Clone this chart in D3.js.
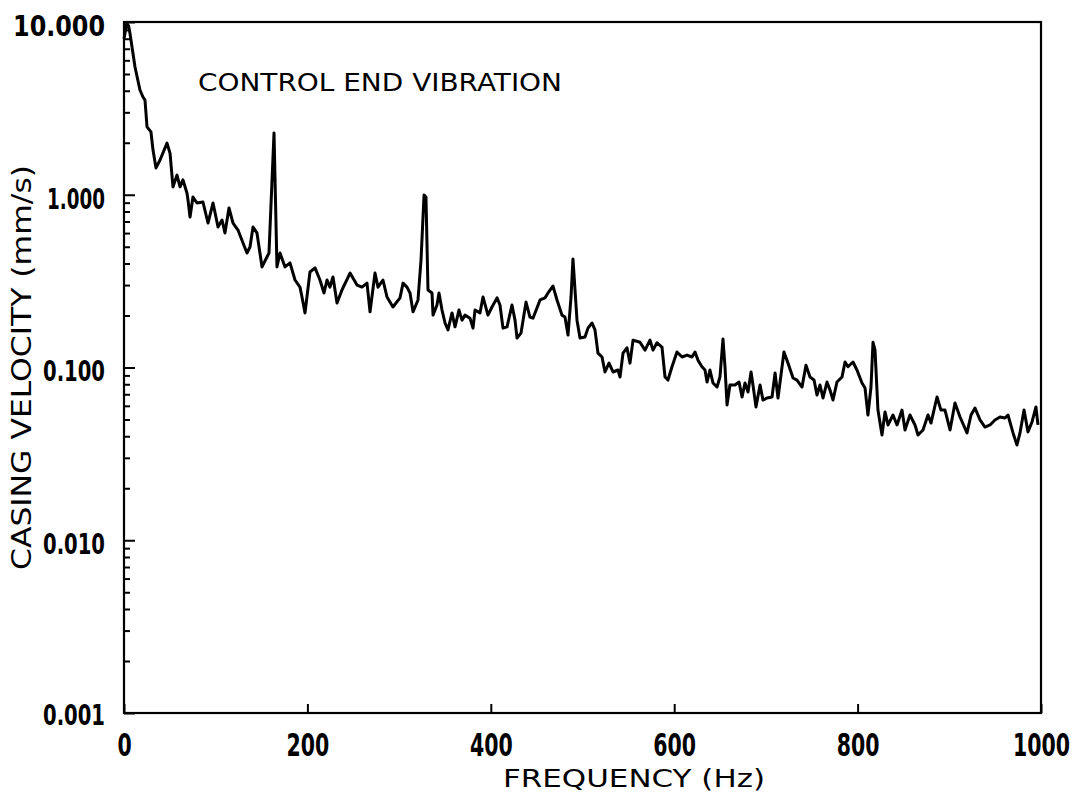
<!DOCTYPE html>
<html>
<head>
<meta charset="utf-8">
<script src="https://cdn.jsdelivr.net/npm/d3@7"></script>
<style>
  html, body { margin: 0; padding: 0; background: #fff; }
  svg { display: block; }
  text { font-family: "DejaVu Sans", sans-serif; fill: #000; }
</style>
</head>
<body>
<svg id="chart" width="1081" height="795"></svg>
<script>
// Spectrum of casing velocity at the control end (mm/s vs Hz)
const freqHz = [
  0, 3, 5, 6.5, 12, 17.4, 20.7, 22.9, 25.1, 29.4,
  31.6, 34.9, 39.3, 46.9, 50.2, 53.4, 57.8, 61.1, 64.3, 68.7,
  69.8, 72, 75.2, 79.6, 86.1, 91.6, 97.1, 102.5, 106.9, 110.1,
  114.5, 118.9, 124.3, 129.8, 134.1, 137.4, 140.7, 145, 150.5, 155.9,
  158.1, 163.6, 166.8, 170.1, 175.6, 181, 186.5, 191.9, 194.1, 197.4,
  202.8, 208.3, 213.7, 218.1, 221.4, 224.6, 227.9, 232.3, 237.7, 246.5,
  254.1, 259.5, 265, 268.3, 273.7, 277, 282.4, 286.8, 293.3, 301,
  304.3, 308.6, 311.9, 315.2, 320.6, 323.9, 327.2, 329.3, 331.5, 335.9,
  337, 341.3, 343.5, 346.8, 350.1, 353.3, 357.7, 361, 365.3, 368.6,
  371.9, 377.3, 380.6, 382.8, 388.2, 391.5, 396.9, 401.3, 406.8, 410,
  413.3, 417.7, 423.1, 426.4, 428.6, 432.9, 438.4, 442.7, 446, 453.7,
  459.1, 462.4, 467.8, 472.2, 477.6, 480.9, 484.2, 487.5, 489.6, 494,
  497.3, 502.7, 506, 510.4, 513.6, 516.9, 521.3, 524.5, 528.9, 533.3,
  538.7, 540.9, 544.2, 548.5, 551.8, 555.1, 562.7, 568.2, 573.6, 576.9,
  581.2, 586.7, 590, 593.2, 597.6, 603, 608.5, 614, 619.4, 622.7,
  626, 630.3, 633.6, 635.8, 639, 642.3, 646.7, 649.9, 653.2, 655.4,
  657.6, 660.8, 666.3, 670.7, 674, 677.2, 680.5, 683.8, 685.9, 689.2,
  693.6, 696.8, 701.2, 706.7, 710, 713.2, 719.7, 724.1, 729.6, 733.9,
  739.4, 743.7, 748.1, 752.5, 755.7, 759, 762.3, 766.6, 769.9, 773.2,
  777.5, 783, 786.3, 789.5, 795, 799.3, 804.8, 808.1, 811.3, 814.6,
  816.8, 819, 822.2, 826.6, 829.9, 833.2, 838.6, 843, 848.4, 851.7,
  857.1, 862.6, 865.9, 871.3, 876.8, 880, 886.6, 890.9, 895.3, 900.8,
  906.2, 911.7, 919.3, 923.7, 928, 933.5, 938.9, 944.4, 949.8, 955.3,
  960.7, 964, 969.5, 973.8, 977.1, 981.5, 985.8, 990.2, 994.5, 996.7
];
const velocity = [
  8.0, 9.8, 9.5, 8.6, 5.49, 4.04, 3.68, 3.53, 2.47, 2.31,
  1.82, 1.43, 1.59, 1.99, 1.74, 1.11, 1.30, 1.11, 1.22, 1.02,
  0.932, 0.743, 0.97, 0.896, 0.908, 0.686, 0.896, 0.651, 0.714, 0.601,
  0.838, 0.686, 0.625, 0.526, 0.46, 0.498, 0.651, 0.601, 0.382, 0.436,
  0.46, 2.28, 0.382, 0.46, 0.382, 0.403, 0.321, 0.292, 0.256, 0.207,
  0.357, 0.377, 0.321, 0.27, 0.321, 0.292, 0.334, 0.236, 0.281, 0.352,
  0.30, 0.292, 0.308, 0.21, 0.352, 0.292, 0.321, 0.256, 0.224, 0.253,
  0.308, 0.292, 0.27, 0.21, 0.246, 0.419, 0.997, 0.97, 0.281, 0.27,
  0.201, 0.23, 0.27, 0.215, 0.181, 0.165, 0.207, 0.172, 0.215, 0.188,
  0.201, 0.193, 0.169, 0.215, 0.207, 0.256, 0.201, 0.224, 0.253, 0.23,
  0.169, 0.172, 0.23, 0.188, 0.148, 0.158, 0.239, 0.196, 0.193, 0.246,
  0.253, 0.27, 0.296, 0.246, 0.201, 0.196, 0.154, 0.256, 0.425, 0.188,
  0.148, 0.150, 0.169, 0.181, 0.165, 0.121, 0.115, 0.0942, 0.106, 0.0942,
  0.0967, 0.0881, 0.121, 0.130, 0.106, 0.144, 0.140, 0.126, 0.144, 0.126,
  0.139, 0.131, 0.0881, 0.0846, 0.101, 0.123, 0.115, 0.118, 0.115, 0.123,
  0.110, 0.101, 0.0967, 0.0824, 0.0967, 0.0813, 0.0771, 0.0881, 0.146, 0.101,
  0.0607, 0.0792, 0.0792, 0.0824, 0.0675, 0.0813, 0.0721, 0.0942, 0.0792, 0.0591,
  0.0792, 0.0648, 0.0666, 0.0675, 0.0929, 0.0666, 0.123, 0.106, 0.0869, 0.0846,
  0.0771, 0.103, 0.0881, 0.0846, 0.0693, 0.0792, 0.0666, 0.0824, 0.0741, 0.0648,
  0.0824, 0.0881, 0.1076, 0.101, 0.1076, 0.0967, 0.0813, 0.0761, 0.0531, 0.0771,
  0.140, 0.126, 0.0567, 0.0407, 0.0553, 0.0465, 0.0531, 0.0465, 0.0567, 0.0435,
  0.0531, 0.0465, 0.0407, 0.0435, 0.0531, 0.0477, 0.0675, 0.0567, 0.0567, 0.0435,
  0.0623, 0.0517, 0.0418, 0.0531, 0.0583, 0.0497, 0.0452, 0.0465, 0.0497, 0.0517,
  0.051, 0.0531, 0.0418, 0.0356, 0.0418, 0.0567, 0.0424, 0.0484, 0.0591, 0.0465
];

const xTickValues = [0, 200, 400, 600, 800, 1000];
const yMajorValues = [10, 1, 0.1, 0.01, 0.001];

const chartTitle = "CONTROL END VIBRATION";
const xTitle = "FREQUENCY  (Hz)";
const yTitle = "CASING VELOCITY  (mm/s)";

const plot = { left: 124, right: 1041, top: 22, bottom: 713 };

const svg = d3.select("#chart");

const x = d3.scaleLinear().domain([0, 1000]).range([plot.left, plot.right]);
const y = d3.scaleLog().domain([0.001, 10]).range([plot.bottom, plot.top]);

// minor log ticks 2..9 in each decade
const yMinorValues = [];
for (let e = -3; e < 1; e++) {
  for (let m = 2; m <= 9; m++) yMinorValues.push(m * Math.pow(10, e));
}

const data = freqHz.map((f, i) => ({ f, v: velocity[i] }));

// spectrum trace
const line = d3.line().x(d => x(d.f)).y(d => y(d.v));
svg.append("path")
  .datum(data)
  .attr("d", line)
  .attr("fill", "none")
  .attr("stroke", "#000")
  .attr("stroke-width", 3)
  .attr("stroke-linejoin", "round");

// left axis: minor ticks pointing inward
svg.append("g")
  .attr("transform", `translate(${plot.left},0)`)
  .call(d3.axisLeft(y).tickValues(yMinorValues).tickSize(-6).tickFormat(""))
  .call(g => g.select(".domain").remove())
  .call(g => g.selectAll("line").attr("stroke", "#000").attr("stroke-width", 2));

// left axis: major ticks with labels, squeezed horizontally to a set width
const fmtY = d3.format(".3f");
const yLabelWidth = { "10.000": 92, "1.000": 58, "0.100": 62, "0.010": 62, "0.001": 62 };
const yPad = 19;
svg.append("g")
  .attr("transform", `translate(${plot.left},0)`)
  .call(d3.axisLeft(y).tickValues(yMajorValues).tickSize(-11).tickPadding(yPad).tickFormat(fmtY))
  .call(g => g.select(".domain").remove())
  .call(g => g.selectAll("line").attr("stroke", "#000").attr("stroke-width", 2))
  .call(g => g.selectAll("text")
    .attr("font-family", "DejaVu Sans, sans-serif")
    .attr("font-size", 29)
    .attr("font-weight", "bold")
    .attr("fill", "#000")
    .attr("dy", d => d === 0.001 ? "0.40em" : "0.46em")
    .each(function(d) {
      const natural = this.getComputedTextLength();
      const sx = yLabelWidth[fmtY(d)] / natural;
      d3.select(this)
        .attr("x", -yPad / sx)
        .attr("transform", `scale(${sx},1)`);
    }));

// bottom axis: ticks pointing up, labels drawn tall and narrow
svg.append("g")
  .attr("transform", `translate(0,${plot.bottom})`)
  .call(d3.axisBottom(x).tickValues(xTickValues).tickSize(-9).tickPadding(20).tickFormat(d3.format("d")))
  .call(g => g.select(".domain").remove())
  .call(g => g.selectAll("line").attr("stroke", "#000").attr("stroke-width", 2))
  .call(g => g.selectAll("text")
    .attr("font-family", "DejaVu Sans, sans-serif")
    .attr("font-size", 32)
    .attr("font-weight", "bold")
    .attr("fill", "#000")
    .attr("dy", "0.72em")
    .attr("transform", "scale(0.64,1)"));

// plot frame
svg.append("rect")
  .attr("x", plot.left).attr("y", plot.top)
  .attr("width", plot.right - plot.left)
  .attr("height", plot.bottom - plot.top)
  .attr("fill", "none")
  .attr("stroke", "#000")
  .attr("stroke-width", 2.2);

// chart title inside the frame
svg.append("text")
  .attr("x", 198).attr("y", 91)
  .attr("font-size", 25)
  .attr("textLength", 364)
  .attr("lengthAdjust", "spacingAndGlyphs")
  .text(chartTitle);

// x-axis title
svg.append("text")
  .attr("x", 503).attr("y", 787)
  .attr("font-size", 24)
  .attr("textLength", 262)
  .attr("lengthAdjust", "spacingAndGlyphs")
  .text(xTitle);

// y-axis title, rotated
svg.append("text")
  .attr("transform", "translate(31,570) rotate(-90)")
  .attr("font-size", 26)
  .attr("textLength", 405)
  .attr("lengthAdjust", "spacingAndGlyphs")
  .text(yTitle);
</script>
</body>
</html>
